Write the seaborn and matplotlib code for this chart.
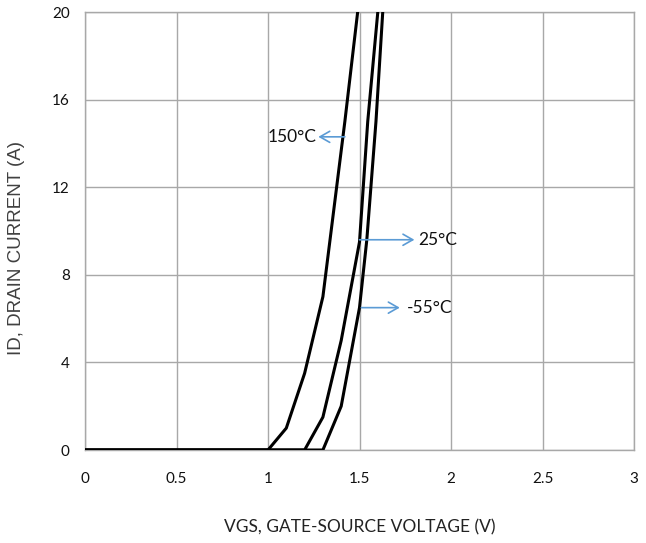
import matplotlib
matplotlib.use("Agg")
import matplotlib.pyplot as plt
import seaborn as sns
import pandas as pd

# Data
vgs_150 = [0.0, 1.0, 1.1, 1.2, 1.3, 1.42, 1.49]
id_150 = [0.0, 0.0, 1.0, 3.5, 7.0, 15.0, 20.0]
vgs_25 = [0.0, 1.2, 1.3, 1.4, 1.5, 1.545, 1.6]
id_25 = [0.0, 0.0, 1.5, 5.0, 9.5, 15.0, 20.0]
vgs_m55 = [0.0, 1.3, 1.4, 1.5, 1.54, 1.59, 1.627]
id_m55 = [0.0, 0.0, 2.0, 6.5, 9.6, 15.0, 20.0]
temps = ["150°C", "25°C", "-55°C"]
x_ticks = [0, 0.5, 1, 1.5, 2, 2.5, 3]
x_tick_labels = ["0", "0.5", "1", "1.5", "2", "2.5", "3"]
y_ticks = [0, 4, 8, 12, 16, 20]

rows = []
for t, xs, ys in zip(temps, [vgs_150, vgs_25, vgs_m55], [id_150, id_25, id_m55]):
    for i, (x, y) in enumerate(zip(xs, ys)):
        rows.append({"temp": t, "order": i, "vgs": x, "id": y})
df = pd.DataFrame(rows)

sns.set_style("white")
plt.rcParams["font.family"] = ["Lato", "DejaVu Sans"]

fig = plt.figure(figsize=(6.46, 5.43), dpi=100)
ax = fig.add_axes([85 / 646, 1 - 450 / 543, (634 - 85) / 646, (450 - 12) / 543])

sns.lineplot(data=df, x="vgs", y="id", hue="temp", units="temp", estimator=None,
             sort=False, palette=["black"] * 3, linewidth=2.2, legend=False, ax=ax,
             zorder=3)

ax.set_xlim(0, 3)
ax.set_ylim(0, 20)
ax.set_xticks(x_ticks)
ax.set_xticklabels(x_tick_labels)
ax.set_yticks(y_ticks)
ax.grid(True, color="#a8a8a8", linewidth=1.0)
for s in ax.spines.values():
    s.set_color("#a8a8a8")
    s.set_linewidth(1.0)
ax.tick_params(axis="both", which="major", direction="out", length=4.5, width=1.0,
               color="#a8a8a8", labelsize=11, labelcolor="#111111")
ax.tick_params(axis="y", pad=6.5)
ax.tick_params(axis="x", pad=11)

ax.set_xlabel("VGS, GATE-SOURCE VOLTAGE (V)", fontsize=12.5, color="#222222",
              family=["Lato", "DejaVu Sans"], labelpad=24)
ax.set_ylabel("ID, DRAIN CURRENT (A)", fontsize=13.5, color="#404040",
              family=["Liberation Sans", "DejaVu Sans"])
ax.yaxis.set_label_coords(-0.109, 0.461)

arrow_color = "#5b9bd5"
ann_font = dict(fontsize=12.5, color="#111111", family=["Lato", "DejaVu Sans"])
arrowprops = dict(arrowstyle="->,head_length=0.7,head_width=0.4", color=arrow_color, lw=1.2,
                  shrinkA=0, shrinkB=0)

ax.annotate("", xy=(1.275, 14.3), xytext=(1.42, 14.3), arrowprops=arrowprops)
ax.text(1.265, 14.3, "150°C", ha="right", va="center", **ann_font)
ax.annotate("", xy=(1.80, 9.6), xytext=(1.50, 9.6), arrowprops=arrowprops)
ax.text(1.82, 9.6, "25°C", ha="left", va="center", **ann_font)
ax.annotate("", xy=(1.72, 6.5), xytext=(1.51, 6.5), arrowprops=arrowprops)
ax.text(1.76, 6.5, "-55°C", ha="left", va="center", **ann_font)

fig.savefig("out.png", dpi=100)
